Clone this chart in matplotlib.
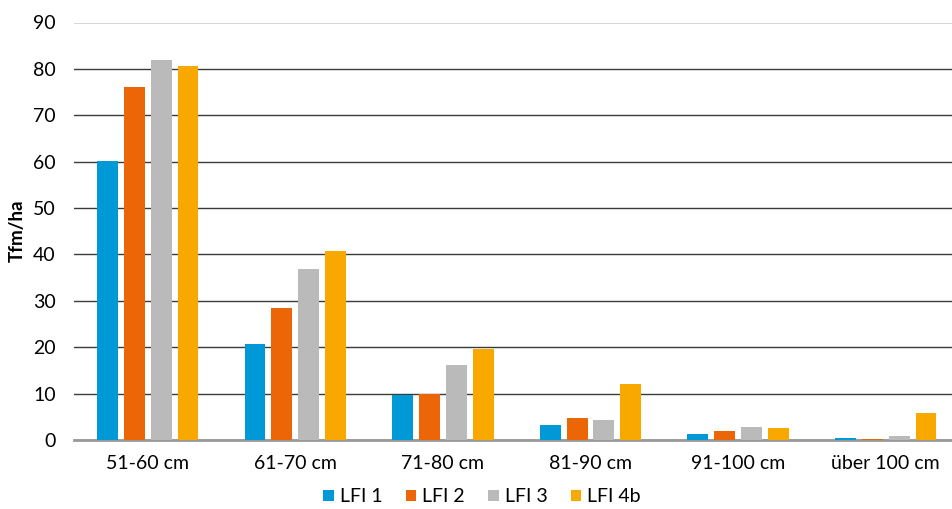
import matplotlib
matplotlib.use("Agg")
import matplotlib.pyplot as plt
import numpy as np
from matplotlib.patches import Patch

categories = ["51-60 cm", "61-70 cm", "71-80 cm", "81-90 cm", "91-100 cm", "über 100 cm"]
series_names = ["LFI 1", "LFI 2", "LFI 3", "LFI 4b"]
lfi1 = [60.1, 20.7, 9.8, 3.3, 1.2, 0.35]
lfi2 = [76.1, 28.5, 10.0, 4.7, 1.9, 0.3]
lfi3 = [81.9, 36.9, 16.2, 4.3, 2.7, 0.8]
lfi4b = [80.6, 40.7, 19.6, 12.0, 2.5, 5.8]
colors = ["#0099D8", "#EC6608", "#BABABA", "#F9A800"]
yticks = [0, 10, 20, 30, 40, 50, 60, 70, 80, 90]

plt.rcParams['font.family'] = ['Lato', 'DejaVu Sans']

fig = plt.figure(figsize=(9.53, 5.09), dpi=100)
ax = fig.add_axes([73.9 / 953, (509 - 440) / 509, (959.5 - 73.9) / 953, (440 - 22.5) / 509])

x = np.arange(len(categories))
step = 0.182
width = 0.142
for i, (vals, c) in enumerate(zip([lfi1, lfi2, lfi3, lfi4b], colors)):
    ax.bar(x + (i - 1.5) * step, vals, width=width, color=c, zorder=5,
           edgecolor="none")

ax.set_xlim(-0.5, len(categories) - 0.5)
ax.set_ylim(0, 90)
ax.set_yticks(yticks)
ax.set_xticks(x)
ax.set_xticklabels(categories, fontsize=14)
ax.tick_params(axis='y', labelsize=14, length=0, pad=13)
ax.tick_params(axis='x', length=0, pad=11)
ax.grid(axis='y', color="#3a3a3a", linewidth=1.0, zorder=0)
for s in ["top", "right", "left"]:
    ax.spines[s].set_visible(False)
ax.spines["bottom"].set_color("#999999")
ax.spines["bottom"].set_linewidth(2)
ax.spines["bottom"].set_zorder(4)
ax.set_ylabel("Tfm/ha", fontsize=13.5, fontweight="bold")
ax.yaxis.set_label_coords(-48 / 885.6, 0.5)

handles = [Patch(facecolor=c, label=n) for c, n in zip(colors, series_names)]
fig.legend(handles=handles, loc="center", bbox_to_anchor=(482 / 953, 1 - 497 / 509),
           ncol=4, frameon=False, fontsize=14, handlelength=0.55, handleheight=0.55,
           handletextpad=0.3, columnspacing=1.2, borderaxespad=0)

fig.savefig("out.png", dpi=100)
